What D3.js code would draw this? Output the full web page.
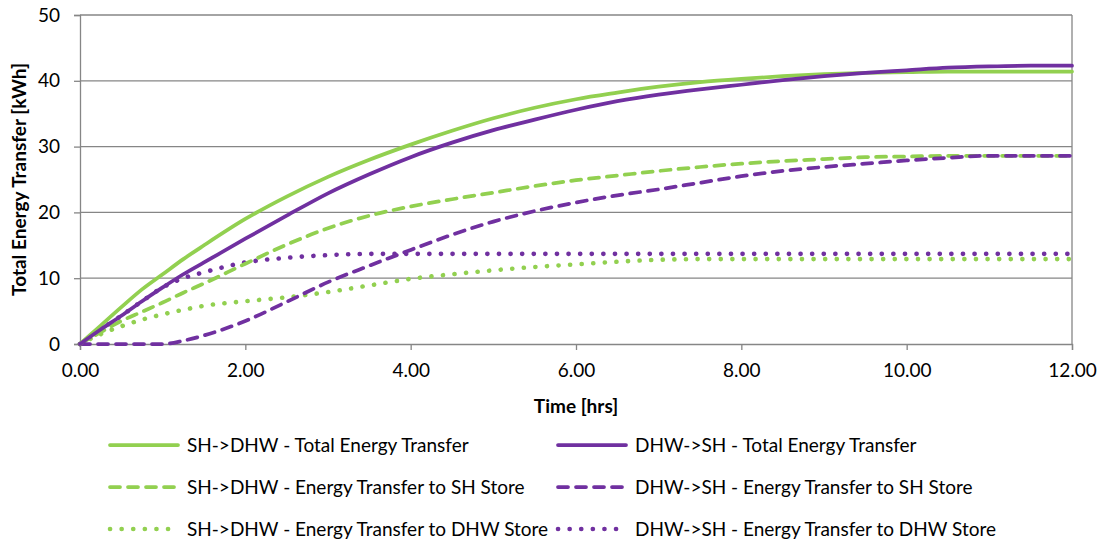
<!DOCTYPE html>
<head>
  <meta charset="utf-8">
  <script src="https://cdn.jsdelivr.net/npm/d3@7"></script>
  <style>
    body { margin: 0; background: #fff; }
    text { font-family: Lato, "Open Sans", sans-serif; fill: #000; }
  </style>
</head>
<body>
  <script>
    // time points (hrs)
    var hours = [0, 0.25, 0.5, 0.75, 1, 1.25, 1.5, 2, 2.5, 3, 3.5, 4, 4.5, 5, 5.5, 6,
                 6.5, 7, 7.5, 8, 8.5, 9, 9.5, 10, 10.5, 11, 11.5, 12];

    // values (kWh)
    var shDhwTotal  = [0, 2.8, 5.6, 8.3, 10.6, 12.9, 15.0, 19.0, 22.4, 25.4, 28.0, 30.3, 32.4, 34.3,
                       35.9, 37.2, 38.2, 39.1, 39.8, 40.3, 40.7, 41.0, 41.2, 41.3, 41.4, 41.4, 41.4, 41.4];
    var dhwShTotal  = [0, 2.2, 4.3, 6.5, 8.6, 10.6, 12.4, 16.0, 19.5, 22.9, 25.8, 28.4, 30.6, 32.5,
                       34.1, 35.6, 36.9, 37.9, 38.7, 39.4, 40.1, 40.7, 41.2, 41.6, 42.0, 42.2, 42.3, 42.3];
    var shDhwToSH   = [0, 1.8, 3.5, 4.9, 6.3, 7.8, 9.2, 12.2, 15.1, 17.6, 19.5, 20.9, 22.0, 23.0,
                       24.0, 24.9, 25.6, 26.3, 26.9, 27.4, 27.8, 28.1, 28.4, 28.5, 28.6, 28.6, 28.6, 28.6];
    var dhwShToSH   = [0, 0, 0, 0, 0, 0.5, 1.3, 3.5, 6.4, 9.4, 11.9, 14.3, 16.6, 18.6,
                       20.2, 21.5, 22.6, 23.5, 24.5, 25.5, 26.3, 26.9, 27.4, 27.9, 28.3, 28.6, 28.6, 28.6];
    var shDhwToDHW  = [0, 1.5, 2.7, 3.7, 4.5, 5.2, 5.8, 6.5, 7.1, 7.9, 8.9, 9.9, 10.6, 11.2,
                       11.7, 12.1, 12.5, 12.8, 12.9, 12.9, 12.9, 12.9, 12.9, 12.9, 12.9, 12.9, 12.9, 12.9];
    var dhwShToDHW  = [0, 2.2, 4.3, 6.5, 8.6, 10.0, 10.9, 12.4, 13.1, 13.5, 13.7, 13.7, 13.7, 13.7,
                       13.7, 13.7, 13.7, 13.7, 13.7, 13.7, 13.7, 13.7, 13.7, 13.7, 13.7, 13.7, 13.7, 13.7];

    var seriesNames = ["SH->DHW - Total Energy Transfer", "DHW->SH - Total Energy Transfer",
                       "SH->DHW - Energy Transfer to SH Store", "DHW->SH - Energy Transfer to SH Store",
                       "SH->DHW - Energy Transfer to DHW Store", "DHW->SH - Energy Transfer to DHW Store"];
    var seriesValues = [shDhwTotal, dhwShTotal, shDhwToSH, dhwShToSH, shDhwToDHW, dhwShToDHW];
    var xTicks = [0, 2, 4, 6, 8, 10, 12];
    var yTicks = [0, 10, 20, 30, 40, 50];

    var green = "#92d050", purple = "#7030a0";
    var styles = [
      {color: green, dash: null, w: 3.75}, {color: purple, dash: null, w: 3.75},
      {color: green, dash: "10,8", w: 3.75}, {color: purple, dash: "10,8", w: 3.75},
      {color: green, dash: "0.1,11.5", w: 4.6}, {color: purple, dash: "0.1,11.5", w: 4.6}
    ];

    var width = 1103, height = 541;
    var margin = {top: 15, right: 31, bottom: 197, left: 80};
    var axisColor = "#868686";

    var svg = d3.select("body").append("svg")
      .attr("width", width)
      .attr("height", height);

    var x = d3.scaleLinear().domain([0, 12]).range([margin.left, width - margin.right]);
    var y = d3.scaleLinear().domain([0, 50]).range([height - margin.bottom, margin.top]);

    // gridlines
    svg.append("g").selectAll("line").data(yTicks.slice(1)).enter().append("line")
      .attr("x1", x(0)).attr("x2", x(12))
      .attr("y1", function(d) { return y(d); }).attr("y2", function(d) { return y(d); })
      .attr("stroke", axisColor).attr("stroke-width", 1.3);

    // right border
    svg.append("line")
      .attr("x1", x(12)).attr("x2", x(12)).attr("y1", y(50)).attr("y2", y(0))
      .attr("stroke", axisColor).attr("stroke-width", 1.3);

    // x axis
    var xAxis = svg.append("g")
      .attr("transform", "translate(0," + y(0) + ")")
      .call(d3.axisBottom(x).tickValues(xTicks).tickSize(6).tickPadding(14)
        .tickFormat(d3.format(".2f")));
    xAxis.select(".domain").attr("stroke", axisColor).attr("stroke-width", 1.3);
    xAxis.selectAll(".tick line").attr("stroke", axisColor).attr("stroke-width", 1.3);
    xAxis.selectAll("text").attr("font-size", 19).attr("font-family", null).attr("fill", "#000");

    // y axis
    var yAxis = svg.append("g")
      .attr("transform", "translate(" + x(0) + ",0)")
      .call(d3.axisLeft(y).tickValues(yTicks).tickSize(6).tickPadding(14));
    yAxis.select(".domain").attr("stroke", axisColor).attr("stroke-width", 1.3);
    yAxis.selectAll(".tick line").attr("stroke", axisColor).attr("stroke-width", 1.3);
    yAxis.selectAll("text").attr("font-size", 19).attr("font-family", null).attr("fill", "#000");

    // series
    var line = d3.line()
      .x(function(d, i) { return x(hours[i]); })
      .y(function(d) { return y(d); })
      .curve(d3.curveMonotoneX);

    // draw back to front so the totals sit on top
    [4, 5, 2, 3, 0, 1].forEach(function(k) {
      svg.append("path")
        .datum(seriesValues[k])
        .attr("d", line)
        .attr("fill", "none")
        .attr("stroke", styles[k].color)
        .attr("stroke-width", styles[k].w)
        .attr("stroke-linecap", "round")
        .attr("stroke-linejoin", "round")
        .attr("stroke-dasharray", styles[k].dash);
    });

    // axis titles
    svg.append("text")
      .attr("x", (x(0) + x(12)) / 2).attr("y", 413)
      .attr("text-anchor", "middle")
      .attr("font-size", 19).attr("font-weight", "bold")
      .text("Time [hrs]");

    svg.append("text")
      .attr("transform", "translate(26," + ((y(0) + y(50)) / 2) + ") rotate(-90)")
      .attr("text-anchor", "middle")
      .attr("font-size", 19).attr("font-weight", "bold")
      .text("Total Energy Transfer [kWh]");

    // legend
    var legendCols = [110, 558], legendRows = [445, 487, 529];
    seriesNames.forEach(function(name, k) {
      var lx = legendCols[k % 2], ly = legendRows[Math.floor(k / 2)];
      svg.append("line")
        .attr("x1", lx).attr("x2", lx + 68).attr("y1", ly).attr("y2", ly)
        .attr("stroke", styles[k].color)
        .attr("stroke-width", styles[k].w)
        .attr("stroke-linecap", "round")
        .attr("stroke-dasharray", styles[k].dash);
      svg.append("text")
        .attr("x", lx + 77).attr("y", ly)
        .attr("dy", "0.35em")
        .attr("font-size", 19)
        .text(name);
    });
  </script>
</body>
